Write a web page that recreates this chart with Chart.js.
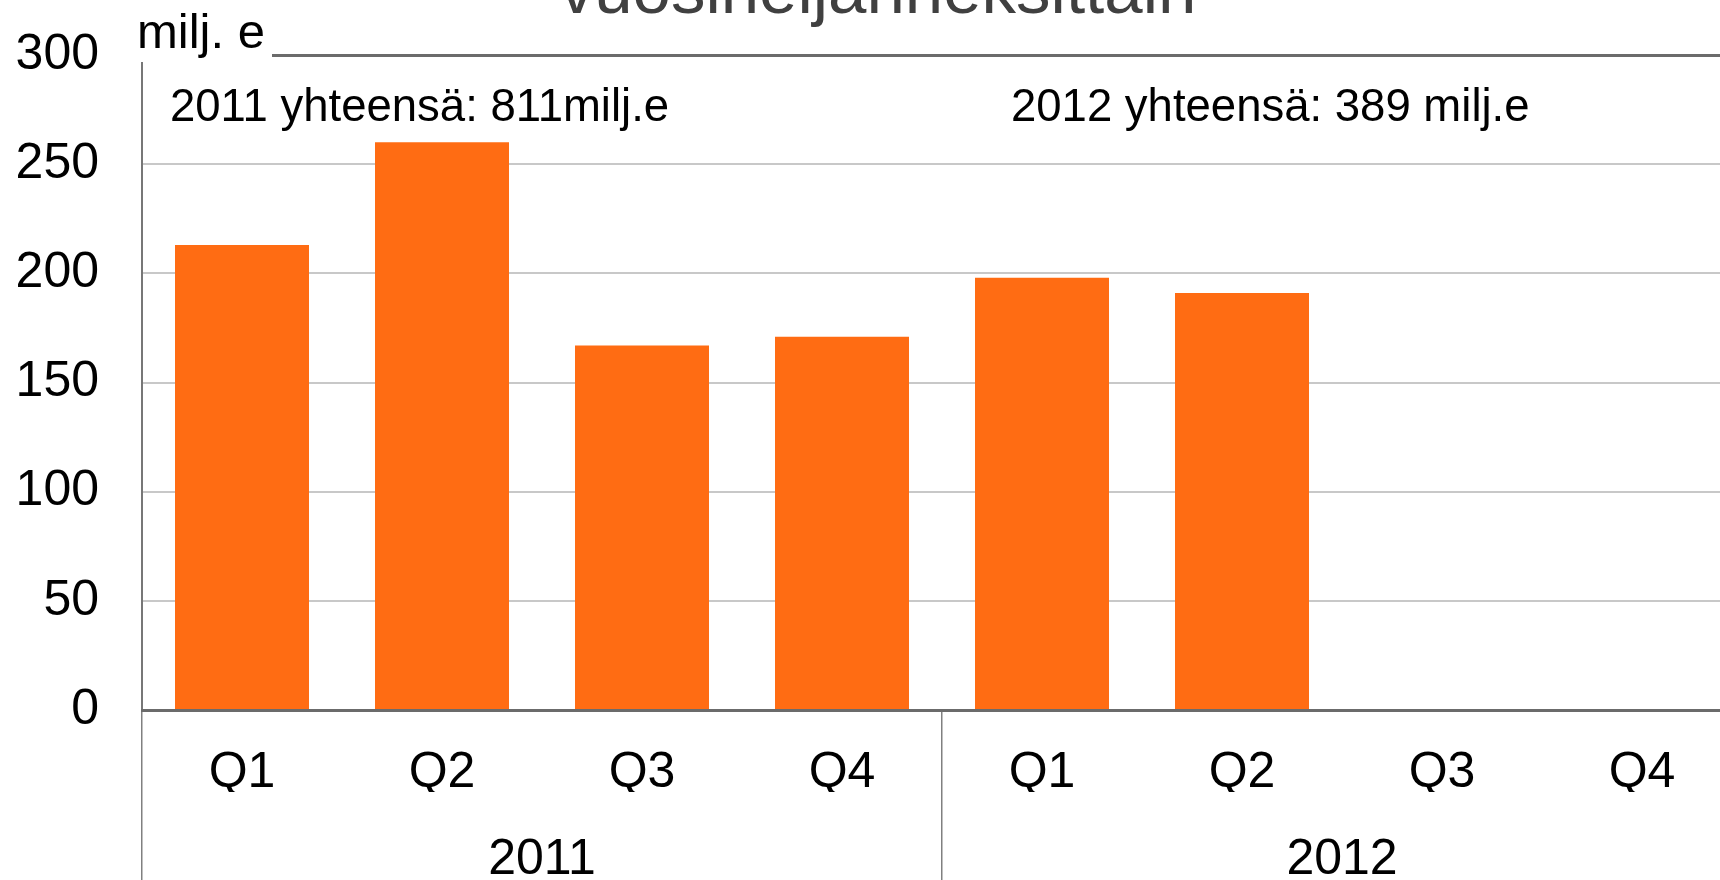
<!DOCTYPE html>
<html>
<head>
    <meta charset="utf-8">
    <title>Vuosineljänneksittäin</title>
    <script src="https://cdn.jsdelivr.net/npm/chart.js@4.4.0/dist/chart.umd.min.js"></script>
    <style>
        html, body { margin: 0; padding: 0; background: #fff; overflow: hidden; }
        #wrap { position: relative; width: 1742px; height: 880px; }
    </style>
</head>
<body>
    <div id="wrap"><canvas id="myChart"></canvas></div>

    <script>
        // data
        var quarters = ['Q1', 'Q2', 'Q3', 'Q4', 'Q1', 'Q2', 'Q3', 'Q4'];
        var years = ['2011', '2012'];
        var values = [213, 260, 167, 171, 198, 191, null, null];
        var yTicks = [0, 50, 100, 150, 200, 250, 300];
        var totals = ['2011 yhteensä: 811milj.e', '2012 yhteensä: 389 milj.e'];
        var unitLabel = 'milj. e';
        var titleText = 'vuosineljänneksittäin';

        var FONT = '"Liberation Sans", Arial, sans-serif';

        var textPlugin = {
            id: 'texts',
            afterDraw: function(chart) {
                var c = chart.ctx;
                var area = chart.chartArea;
                c.save();
                // cover the top of the axis / grid line where the unit label sits
                c.fillStyle = '#ffffff';
                c.fillRect(area.left - 3, 0, 272 - area.left + 3, 62);
                c.fillStyle = '#000000';
                c.textBaseline = 'alphabetic';
                c.textAlign = 'left';
                c.font = '49px ' + FONT;
                c.fillText(unitLabel, 137, 48);
                c.font = '45.5px ' + FONT;
                c.fillText(totals[0], 170, 121);
                c.fillText(totals[1], 1011, 121);
                c.fillStyle = '#404040';
                c.textAlign = 'center';
                c.font = '69px ' + FONT;
                c.fillText(titleText, 878, 13);
                c.restore();
            }
        };

        var ctx = document.getElementById('myChart').getContext('2d');
        var chart = new Chart(ctx, {
            type: 'bar',
            data: {
                labels: quarters,
                datasets: [{
                    label: 'milj. e',
                    data: values,
                    backgroundColor: '#ff6c13',
                    borderWidth: 0,
                    barPercentage: 0.67,
                    categoryPercentage: 1.0
                }]
            },
            options: {
                responsive: true,
                maintainAspectRatio: false,
                animation: false,
                layout: { padding: { top: 55, left: 0, right: 0, bottom: 0 } },
                plugins: {
                    legend: { display: false },
                    tooltip: { enabled: false }
                },
                scales: {
                    y: {
                        min: 0,
                        max: 300,
                        afterFit: function(s) { s.width = 142; },
                        afterBuildTicks: function(s) {
                            s.ticks = yTicks.map(function(v) { return { value: v }; });
                        },
                        ticks: {
                            color: '#000',
                            padding: 0,
                            font: { family: FONT, size: 50 }
                        },
                        grid: {
                            drawTicks: true,
                            tickLength: 43,
                            tickColor: 'rgba(0,0,0,0)',
                            color: function(c) { return c.tick && c.tick.value === 300 ? '#6b6b6b' : '#c8c8c8'; },
                            lineWidth: function(c) { return c.tick && c.tick.value === 300 ? 3 : 2; }
                        },
                        border: { color: '#777777', width: 2 }
                    },
                    x: {
                        afterFit: function(s) { s.height = 82; },
                        ticks: {
                            color: '#000',
                            padding: -137,
                            font: { family: FONT, size: 50 }
                        },
                        grid: {
                            drawOnChartArea: false,
                            drawTicks: true,
                            tickLength: 170,
                            color: function(c) { return (c.index === 0 || c.index === 4) ? '#808080' : 'rgba(0,0,0,0)'; },
                            lineWidth: 1.5
                        },
                        border: { color: '#6b6b6b', width: 3 }
                    },
                    x2: {
                        type: 'category',
                        position: 'bottom',
                        labels: years,
                        offset: true,
                        afterFit: function(s) { s.height = 88; },
                        ticks: {
                            color: '#000',
                            padding: 38,
                            font: { family: FONT, size: 50 }
                        },
                        grid: { display: false, drawTicks: false },
                        border: { display: false }
                    }
                }
            },
            plugins: [textPlugin]
        });
    </script>
</body>
</html>
